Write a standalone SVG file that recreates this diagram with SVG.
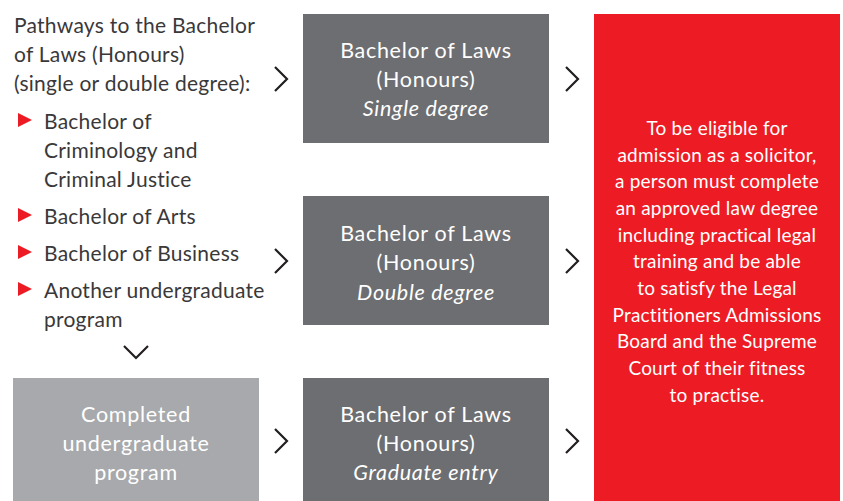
<svg xmlns="http://www.w3.org/2000/svg" width="843" height="501" viewBox="0 0 843 501">
<style>
.t{font-family:Lato,"Open Sans","Liberation Sans",sans-serif;font-size:21px;letter-spacing:0.25px;fill:#3a3839}
.bt{font-family:Lato,"Open Sans","Liberation Sans",sans-serif;font-size:21.5px;letter-spacing:0.7px;fill:#ffffff;text-anchor:middle}
.it{font-style:italic}
.rt{font-family:Lato,"Open Sans","Liberation Sans",sans-serif;font-size:19px;letter-spacing:0.2px;fill:#ffffff;text-anchor:middle}
.dark{fill:#6d6e71}
.light{fill:#a7a9ac}
.red{fill:#ed1c24}
.chev{fill:none;stroke:#231f20;stroke-width:2.2}
.bul{fill:#ed1c24}
</style>
<rect width="843" height="501" fill="#ffffff"/>
<g id="pathways">
<text class="t" x="14" y="33">Pathways to the Bachelor</text>
<text class="t" x="14" y="62">of Laws (Honours)</text>
<text class="t" x="14" y="91">(single or double degree):</text>
<polygon class="bul" points="18,113 32,120 18,127"/>
<text class="t" x="44" y="129">Bachelor of</text>
<text class="t" x="44" y="158">Criminology and</text>
<text class="t" x="44" y="187">Criminal Justice</text>
<polygon class="bul" points="18,208 32,215 18,222"/>
<text class="t" x="44" y="224">Bachelor of Arts</text>
<polygon class="bul" points="18,245 32,252 18,259"/>
<text class="t" x="44" y="261">Bachelor of Business</text>
<polygon class="bul" points="18,282 32,289 18,296"/>
<text class="t" x="44" y="298">Another undergraduate</text>
<text class="t" x="44" y="327">program</text>
</g>
<g id="single">
<rect class="dark" x="303" y="14" width="246" height="129"/>
<text class="bt" x="426" y="58">Bachelor of Laws</text>
<text class="bt" x="426" y="87">(Honours)</text>
<text class="bt it" x="426" y="116">Single degree</text>
</g>
<g id="double">
<rect class="dark" x="303" y="196" width="246" height="129"/>
<text class="bt" x="426" y="241">Bachelor of Laws</text>
<text class="bt" x="426" y="270">(Honours)</text>
<text class="bt it" x="426" y="300">Double degree</text>
</g>
<g id="completed">
<rect class="light" x="13" y="378" width="246" height="123"/>
<text class="bt" x="136" y="422">Completed</text>
<text class="bt" x="136" y="451">undergraduate</text>
<text class="bt" x="136" y="480">program</text>
</g>
<g id="graduate">
<rect class="dark" x="303" y="378" width="246" height="123"/>
<text class="bt" x="426" y="422">Bachelor of Laws</text>
<text class="bt" x="426" y="451">(Honours)</text>
<text class="bt it" x="426" y="480">Graduate entry</text>
</g>
<g id="eligibility">
<rect class="red" x="594" y="14" width="246" height="487"/>
<text class="rt" x="717" y="135">To be eligible for</text>
<text class="rt" x="717" y="162">admission as a solicitor,</text>
<text class="rt" x="717" y="188">a person must complete</text>
<text class="rt" x="717" y="215">an approved law degree</text>
<text class="rt" x="717" y="242">including practical legal</text>
<text class="rt" x="717" y="268">training and be able</text>
<text class="rt" x="717" y="295">to satisfy the Legal</text>
<text class="rt" x="717" y="322">Practitioners Admissions</text>
<text class="rt" x="717" y="348">Board and the Supreme</text>
<text class="rt" x="717" y="375">Court of their fitness</text>
<text class="rt" x="717" y="402">to practise.</text>
</g>
<g id="connectors">
<polyline class="chev" points="275,67 287,79 275,91"/>
<polyline class="chev" points="566,67 578,79 566,91"/>
<polyline class="chev" points="275,249 287,261 275,273"/>
<polyline class="chev" points="566,249 578,261 566,273"/>
<polyline class="chev" points="124,346 136,358 148,346"/>
<polyline class="chev" points="275,429 287,441 275,453"/>
<polyline class="chev" points="566,429 578,441 566,453"/>
</g>
</svg>
